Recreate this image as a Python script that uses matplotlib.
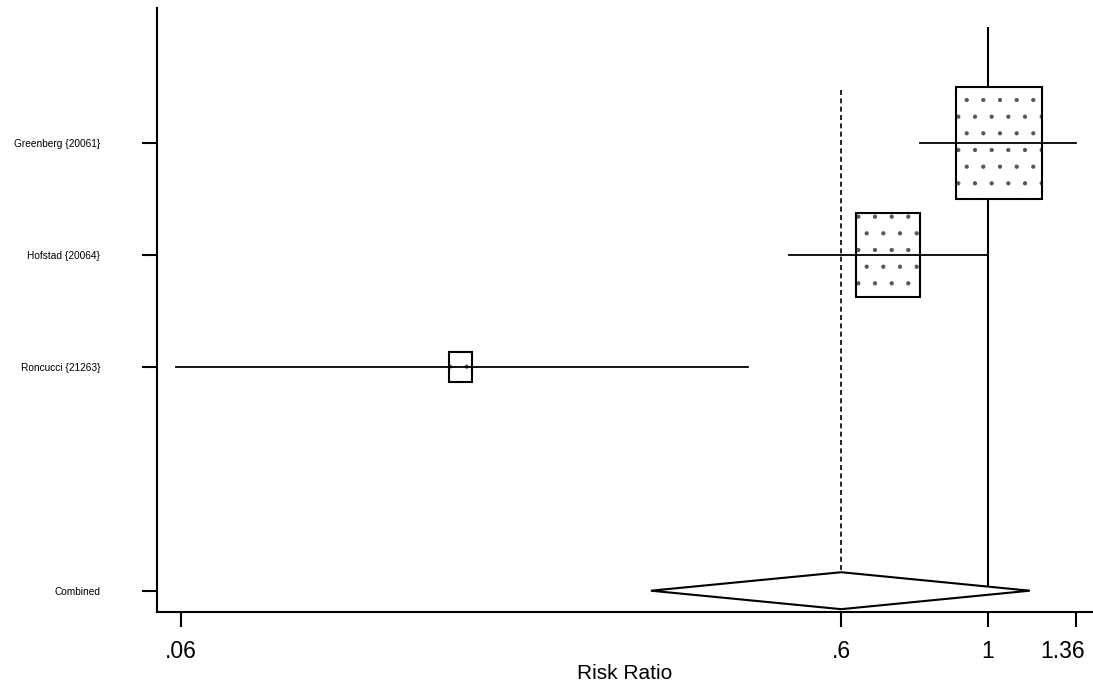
import numpy as np
import matplotlib
matplotlib.use("Agg")
import matplotlib.pyplot as plt
import matplotlib.transforms as mtransforms
from matplotlib.patches import Rectangle, Polygon

plt.rcParams['font.family'] = ['Liberation Sans', 'DejaVu Sans']
plt.rcParams['hatch.linewidth'] = 0.6

# study data (risk ratios)
studies = ['Greenberg {20061}', 'Hofstad {20064}', 'Roncucci {21263}']
rr = [1.04, 0.706, 0.159]
lower = [0.79, 0.50, 0.059]
upper = [1.36, 1.00, 0.434]
box_size = [1.0, 0.75, 0.27]   # relative weight -> box height

combined_label = 'Combined'
combined_rr = 0.6
combined_lower = 0.309
combined_upper = 1.158

xticks = [0.06, 0.6, 1, 1.36]
xtick_labels = ['.06', '.6', '1', '1.36']

fig = plt.figure(figsize=(10.93, 6.89), dpi=100)
ax = fig.add_axes([0.1436, 0.1118, 0.8564, 0.8766])
ax.set_xscale('log')
ax.set_xlim(0.0552, 1.4435)
ax.set_ylim(5.19, -0.205)

ypos = [1, 2, 3]
ycomb = 5

# horizontal ratio between box width (log units) and height (y units)
wfac = 0.297

for y, m, lo, hi, s in zip(ypos, rr, lower, upper, box_size):
    ax.plot([lo, hi], [y, y], color='black', lw=1.3, zorder=3)
    lm = np.log(m)
    x0 = np.exp(lm - s * wfac / 2)
    x1 = np.exp(lm + s * wfac / 2)
    ax.add_patch(Rectangle((x0, y - s / 2), x1 - x0, s, facecolor='white',
                           edgecolor='#555555', hatch='.', lw=0, zorder=2))
    ax.add_patch(Rectangle((x0, y - s / 2), x1 - x0, s, facecolor='none',
                           edgecolor='black', lw=1.5, zorder=4))

# null line and combined estimate line
ax.plot([1, 1], [-0.03, ycomb], color='black', lw=1.5, zorder=1)
ax.plot([combined_rr, combined_rr], [0.53, ycomb - 0.17], color='black',
        lw=1.2, ls=(0, (3, 2)), zorder=1)

# combined diamond
dh = 0.165
ax.add_patch(Polygon([[combined_lower, ycomb], [combined_rr, ycomb - dh],
                      [combined_upper, ycomb], [combined_rr, ycomb + dh]],
                     closed=True, facecolor='white', edgecolor='black', lw=1.5, zorder=3))

ax.set_yticks(ypos + [ycomb])
ax.set_yticklabels(studies + [combined_label], fontsize=7.3)
ax.set_xticks(xticks)
ax.set_xticklabels(xtick_labels, fontsize=16.5)
ax.xaxis.set_minor_locator(matplotlib.ticker.NullLocator())
ax.tick_params(axis='y', length=11, width=1.5, pad=30)
ax.tick_params(axis='x', length=11, width=1.5, pad=9)
ax.set_xlabel('Risk Ratio', fontsize=15, labelpad=1)

# last tick label sits a bit left of its tick
last = ax.get_xticklabels()[-1]
last.set_transform(last.get_transform() +
                   mtransforms.ScaledTranslation(-13 / 100, 0, fig.dpi_scale_trans))

for side in ['top', 'right']:
    ax.spines[side].set_visible(False)
for side in ['left', 'bottom']:
    ax.spines[side].set_linewidth(1.5)

fig.savefig('out.png', dpi=100)
